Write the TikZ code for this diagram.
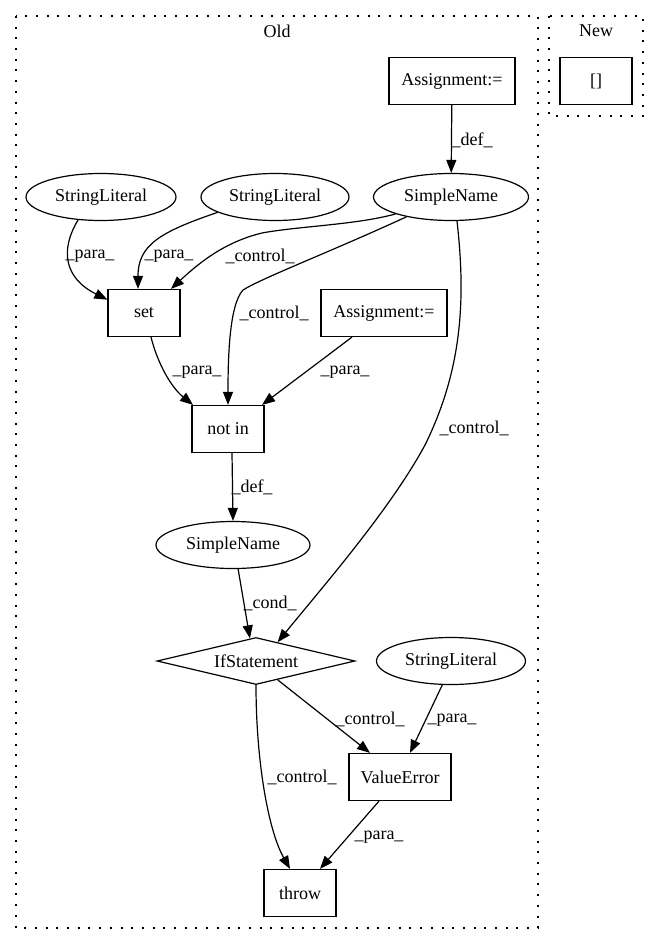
\documentclass[tikz,border=0pt]{standalone}
\usepackage{fontspec}
\setmainfont{Liberation Serif}
\usetikzlibrary{shapes.geometric,arrows.meta}
\begin{document}
\begin{tikzpicture}[x=1pt,y=-1pt,
  every node/.style={font=\fontsize{18pt}{21pt}\selectfont},
  box/.style={draw, rectangle, line width=1.2pt, minimum height=47pt, inner sep=0pt},
  ell/.style={draw, ellipse, line width=1.2pt, minimum height=47pt, inner sep=0pt},
  dia/.style={draw, diamond, line width=1.2pt, minimum width=198pt, minimum height=47pt, inner sep=0pt, aspect=4.2},
  conn/.style={draw, line width=1.2pt, -{Triangle[length=13pt,width=10pt]}},
  lbl/.style={inner sep=0pt},
  cluster/.style={draw, line width=1.2pt, dash pattern=on 2pt off 8.7pt},
]
\useasboundingbox (0,0) rectangle (659,944);
% clusters
\draw[cluster] (16,16) rectangle (538,928);
\draw[cluster] (549,16) rectangle (643,116);
\node[lbl] (oldlbl) at (277,31) {Old};
\node[lbl] (newlbl) at (596,31) {New};
% nodes
\node[box, minimum width=72pt] (new) at (596,81) {[]};
\node[box, minimum width=126pt] (a1) at (452,81) {Assignment:=};
\node[ell, minimum width=155pt] (sn1) at (451,197) {SimpleName};
\node[ell, minimum width=150pt] (sl1) at (101,197) {StringLiteral};
\node[ell, minimum width=148pt] (sl2) at (275,197) {StringLiteral};
\node[box, minimum width=72pt] (set) at (144,313) {set};
\node[box, minimum width=126pt] (a2) at (384,313) {Assignment:=};
\node[box, minimum width=72pt] (notin) at (228,429) {not in};
\node[ell, minimum width=154pt] (sn2) at (233,545) {SimpleName};
\node[dia] (ifs) at (256,661) {IfStatement};
\node[ell, minimum width=149pt] (sl3) at (451,661) {StringLiteral};
\node[box, minimum width=102pt] (ve) at (400,777) {ValueError};
\node[box, minimum width=72pt] (throw) at (300,893) {throw};
% edges
\draw[conn] (a1) -- (sn1) node[lbl] at (472,140) {\_def\_};
\draw[conn] (sl1.225) .. controls (60,250) and (64,278) .. (set.160) node[lbl] at (90,256) {\_para\_};
\draw[conn] (sl2.195) .. controls (160,232) and (138,245) .. ([xshift=-6pt]set.north) node[lbl] at (169,256) {\_para\_};
\draw[conn] (sn1.197) .. controls (355,225) and (300,226) .. (262,233) .. controls (225,242) and (200,262) .. ([xshift=27pt]set.north) node[lbl] at (260,256) {\_control\_};
\draw[conn] (sn1.204) .. controls (330,252) and (262,278) .. (243,290) .. controls (229,305) and (228,360) .. (notin.north) node[lbl] at (274,313) {\_control\_};
\draw[conn] (sn1.-76) .. controls (466,300) and (462,370) .. (425,445) .. controls (390,510) and (320,590) .. (ifs.41) node[lbl] at (474,428) {\_control\_};
\draw[conn] ([xshift=7pt]set.south) .. controls (158,365) and (172,388) .. ([xshift=-35pt]notin.north) node[lbl] at (197,372) {\_para\_};
\draw[conn] ([xshift=-32pt]a2.south) -- ([xshift=34pt]notin.north) node[lbl] at (345,372) {\_para\_};
\draw[conn] ([xshift=4pt]notin.south) -- (sn2.north) node[lbl] at (252,487) {\_def\_};
\draw[conn] (sn2.-78) -- (ifs.105) node[lbl] at (270,603) {\_cond\_};
\draw[conn] (ifs.-41) -- ([xshift=-30pt]ve.north) node[lbl] at (370,719) {\_control\_};
\draw[conn] (sl3.-110) -- ([xshift=10pt]ve.north) node[lbl] at (452,720) {\_para\_};
\draw[conn] (ifs.south) .. controls (256,760) and (268,830) .. ([xshift=-10pt]throw.north) node[lbl] at (302,777) {\_control\_};
\draw[conn] ([xshift=-21pt]ve.south) -- ([xshift=20pt]throw.north) node[lbl] at (379,837) {\_para\_};
\end{tikzpicture}
\end{document}
